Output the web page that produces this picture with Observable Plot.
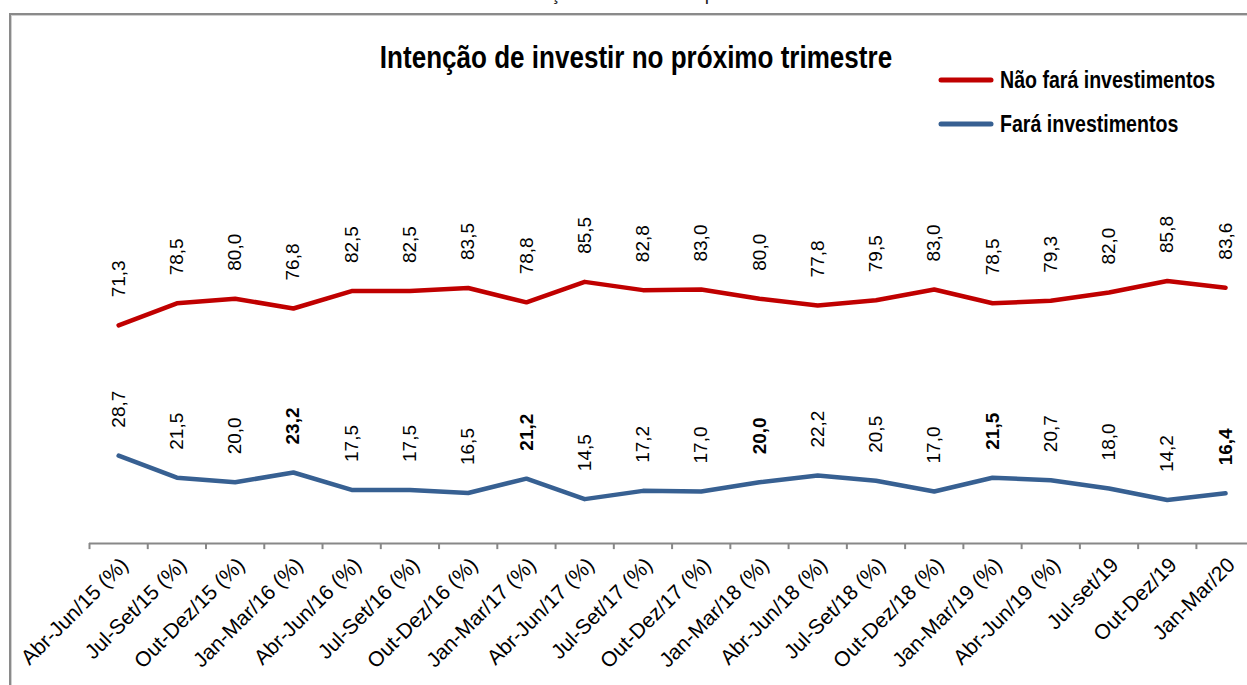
<!DOCTYPE html>
<html>
<head>
<meta charset="utf-8">
<script src="https://cdn.jsdelivr.net/npm/d3@7"></script>
<script src="https://cdn.jsdelivr.net/npm/@observablehq/plot@0.6"></script>
<style>
  html, body { margin: 0; padding: 0; background: #fff; overflow: hidden; width: 1247px; height: 685px; }
  #wrap { position: relative; width: 1247px; height: 685px; overflow: hidden; }
  #frame { position: absolute; left: 9px; top: 13px; width: 1400px; height: 900px; border-left: 2px solid #8a8a8a; border-top: 2px solid #8a8a8a; box-shadow: inset 1px 1px 0 #d0d0d0; }
  #cut { position: absolute; left: 410px; top: -17px; font: 19px "Liberation Sans", sans-serif; color: #222; white-space: nowrap; }
  #title { position: absolute; left: 0; width: 1272px; top: 42px; text-align: center; font: bold 31px/1 "Liberation Sans", Arial, sans-serif; color: #000; white-space: nowrap; transform: scaleX(0.84); transform-origin: 636px center; }
  .leg { position: absolute; left: 938px; display: flex; align-items: center; font: bold 24px/1 "Liberation Sans", Arial, sans-serif; color: #000; white-space: nowrap; }
  .leg svg { margin-right: 6px; flex: none; }
  .leg span { display: inline-block; transform: scaleX(0.815); transform-origin: left center; }
  #chart { position: absolute; left: 0; top: 0; }
</style>
</head>
<body>
<div id="wrap">
  <div id="frame"></div>
  <div id="cut">Gráfico 1 – Intenção de investir no próximo trimestre</div>
  <div id="title"></div>
  <div id="legend"></div>
  <div id="chart"></div>
</div>
<script>
const title = "Intenção de investir no próximo trimestre";
const categories = [
  "Abr-Jun/15 (%)", "Jul-Set/15 (%)", "Out-Dez/15 (%)", "Jan-Mar/16 (%)",
  "Abr-Jun/16 (%)", "Jul-Set/16 (%)", "Out-Dez/16 (%)", "Jan-Mar/17 (%)",
  "Abr-Jun/17 (%)", "Jul-Set/17 (%)", "Out-Dez/17 (%)", "Jan-Mar/18 (%)",
  "Abr-Jun/18 (%)", "Jul-Set/18 (%)", "Out-Dez/18 (%)", "Jan-Mar/19 (%)",
  "Abr-Jun/19 (%)", "Jul-set/19", "Out-Dez/19", "Jan-Mar/20"
];
const seriesNames = ["Não fará investimentos", "Fará investimentos"];
const seriesColors = ["#C00000", "#376092"];
const naoFara = [71.3, 78.5, 80.0, 76.8, 82.5, 82.5, 83.5, 78.8, 85.5, 82.8, 83.0, 80.0, 77.8, 79.5, 83.0, 78.5, 79.3, 82.0, 85.8, 83.6];
const fara = [28.7, 21.5, 20.0, 23.2, 17.5, 17.5, 16.5, 21.2, 14.5, 17.2, 17.0, 20.0, 22.2, 20.5, 17.0, 21.5, 20.7, 18.0, 14.2, 16.4];

const fmt = v => v.toFixed(1).replace(".", ",");
const font = '"Liberation Sans", Arial, sans-serif';

document.getElementById("title").textContent = title;
const legend = document.getElementById("legend");
seriesNames.forEach((name, k) => {
  const row = document.createElement("div");
  row.className = "leg";
  row.style.top = (k === 0 ? 66 : 110) + "px";
  row.style.height = "28px";
  row.innerHTML = `<svg width="56" height="10"><line x1="3" y1="5" x2="53" y2="5" stroke="${seriesColors[k]}" stroke-width="5" stroke-linecap="round"/></svg><span>${name}</span>`;
  legend.appendChild(row);
});

const rowsRed = naoFara.map((v, i) => ({i, v, cat: categories[i]}));
const rowsBlue = fara.map((v, i) => ({i, v, cat: categories[i]}));
const isBold = d => d.cat.startsWith("Jan-Mar");
const edges = categories.map((c, i) => i - 0.5);
const catRows = categories.map((c, i) => ({i, c}));

const chart = Plot.plot({
  width: 1247,
  height: 685,
  marginLeft: 89,
  marginRight: 0,
  marginTop: 237,
  marginBottom: 142,
  x: {type: "linear", domain: [-0.5, 19.377], axis: null},
  y: {domain: [0, 100], axis: null},
  style: {background: "transparent", overflow: "visible"},
  marks: [
    Plot.ruleY([0], {stroke: "#888", strokeWidth: 2}),
    Plot.ruleX(edges, {x: d => d, y1: 0, y2: -2, stroke: "#888", strokeWidth: 2}),
    Plot.line(rowsRed, {x: "i", y: "v", stroke: seriesColors[0], strokeWidth: 4.5, strokeLinecap: "round", strokeLinejoin: "round"}),
    Plot.line(rowsBlue, {x: "i", y: "v", stroke: seriesColors[1], strokeWidth: 4.5, strokeLinecap: "round", strokeLinejoin: "round"}),
    Plot.text(rowsRed, {x: "i", y: "v", text: d => fmt(d.v), rotate: -90, textAnchor: "start", dy: -28, fontSize: 19, fontFamily: font, fill: "#000"}),
    Plot.text(rowsBlue.filter(d => !isBold(d)), {x: "i", y: "v", text: d => fmt(d.v), rotate: -90, textAnchor: "start", dy: -28, fontSize: 19, fontFamily: font, fill: "#000"}),
    Plot.text(rowsBlue.filter(isBold), {x: "i", y: "v", text: d => fmt(d.v), rotate: -90, textAnchor: "start", dy: -28, fontSize: 19, fontWeight: "bold", fontFamily: font, fill: "#000"}),
    Plot.text(catRows, {x: "i", y: () => 0, text: "c", rotate: -45, textAnchor: "end", dx: 6, dy: 18, fontSize: 21, fontFamily: font, fill: "#000"})
  ]
});
document.getElementById("chart").appendChild(chart);
</script>
</body>
</html>
